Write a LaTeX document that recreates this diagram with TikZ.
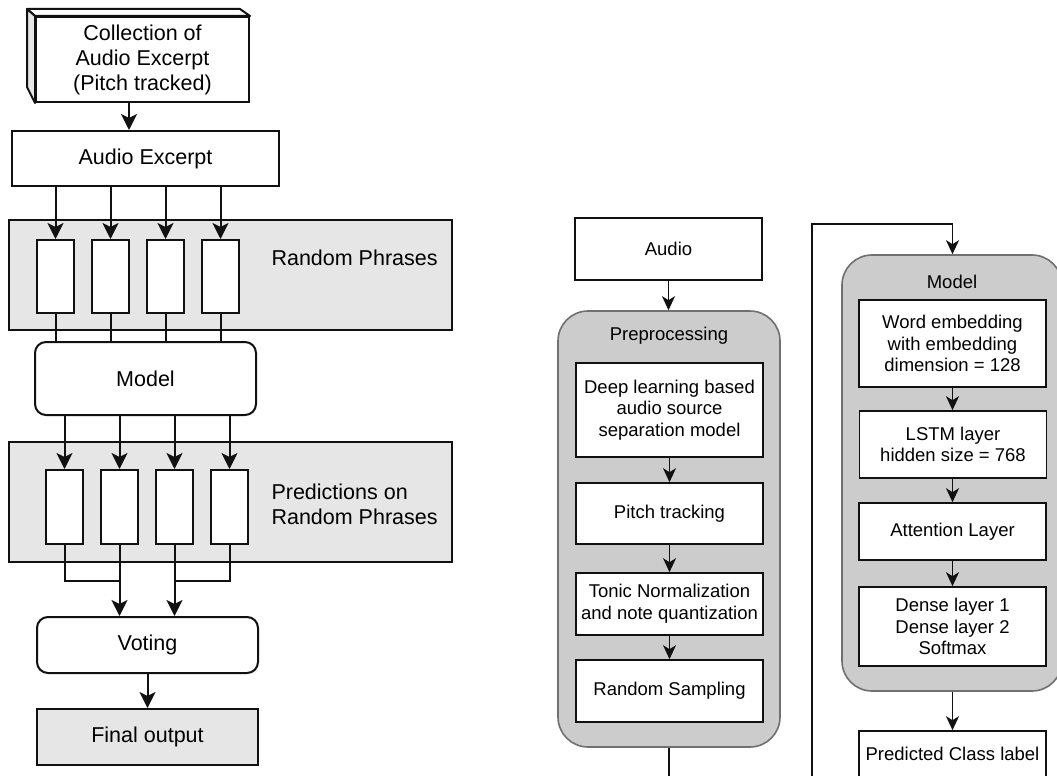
\documentclass[tikz,border=0pt]{standalone}
\usepackage{fontspec}
\setmainfont{Liberation Sans}
\usetikzlibrary{arrows.meta,calc}
\definecolor{panelgray}{HTML}{E6E6E6}
\definecolor{contgray}{HTML}{CCCCCC}
\definecolor{contline}{HTML}{707070}
\definecolor{ink}{HTML}{111111}
\begin{document}
\begin{tikzpicture}[x=1pt,y=-1pt,
  lfont/.style={font=\fontsize{21.5}{25}\selectfont},
  rfont/.style={font=\fontsize{18.5}{21.7}\selectfont},
  lbox/.style={draw=ink,line width=2pt,inner sep=0pt,align=center,lfont,fill=white},
  rbox/.style={draw=ink,line width=1.6pt,inner sep=0pt,align=center,rfont,fill=white},
  panel/.style={draw=ink,line width=2pt,fill=panelgray,inner sep=0pt},
  cont/.style={draw=contline,line width=1.6pt,fill=contgray,inner sep=0pt,rounded corners=30pt},
  larr/.style={draw=ink,line width=2pt,arrows={-Stealth[length=16pt,width=16pt,inset=4pt]}},
  lline/.style={draw=ink,line width=2pt},
  rarr/.style={draw=ink,line width=1.6pt,arrows={-Stealth[length=14pt,width=13pt,inset=4pt]}},
  rline/.style={draw=ink,line width=1.6pt}
]
\useasboundingbox (0,0) rectangle (1057,776);
\fill[white] (0,0) rectangle (1057,776);
\clip (0,0) rectangle (1057,776);

% ---------------- Left diagram ----------------
\node[lbox,minimum width=213pt,minimum height=85pt] (coll) at (142.5,59.5)
  {Collection of\\Audio Excerpt\\(Pitch tracked)};
\filldraw[draw=ink,line width=2pt,fill=white,line join=round]
  (coll.north west) -- ++(-8,-7) -- ++(213,0) -- (coll.north east) -- cycle;
\filldraw[draw=ink,line width=2pt,fill=panelgray,line join=round]
  (coll.north west) -- ++(-8,-7) -- ++(0,78) -- (coll.south west) -- cycle;

\node[lbox,minimum width=267pt,minimum height=55pt] (ae) at (145.5,158.5) {Audio Excerpt};
\coordinate (xc) at (129,0);
\draw[larr] (coll.south -| xc) -- (ae.north -| xc);

\node[panel,minimum width=443pt,minimum height=110pt] (rp) at (230.5,275) {};
\node[lfont,anchor=west] (rplab) at (268,258) {Random Phrases};
\foreach \i/\x in {1/55.5,2/110.5,3/165.5,4/220.5}{
  \node[lbox,minimum width=37pt,minimum height=73pt] (r\i) at (\x,276.5) {};
}
\node[lbox,rounded corners=11pt,minimum width=221pt,minimum height=73pt] (model) at (145.5,378.5) {Model};
\foreach \i in {1,...,4}{
  \draw[larr] (ae.south -| r\i) -- (r\i.north);
  \draw[lline] (r\i.south) -- (model.north -| r\i);
}

\node[panel,minimum width=443pt,minimum height=120pt] (pp) at (230.5,502) {};
\node[lfont,anchor=west,align=left] (pplab) at (268,504) {Predictions on\\Random Phrases};
\foreach \i/\x in {1/64.5,2/119.5,3/174.5,4/229.5}{
  \node[lbox,minimum width=37pt,minimum height=74pt] (p\i) at (\x,507) {};
  \draw[larr] (model.south -| p\i) -- (p\i.north);
}

\node[lbox,rounded corners=11pt,minimum width=221pt,minimum height=56pt] (vote) at (147.5,645) {Voting};
\node[lbox,fill=panelgray,minimum width=221pt,minimum height=56pt] (final) at (147.5,737) {Final output};

\coordinate (mj) at (0,581);
\draw[lline] (p1.south) -- (p1.south |- mj) -- (p2.south |- mj);
\draw[lline] (p4.south) -- (p4.south |- mj) -- (p3.south |- mj);
\draw[larr] (p2.south) -- (vote.north -| p2);
\draw[larr] (p3.south) -- (vote.north -| p3);
\draw[larr] (vote.south) -- (final.north);

% ---------------- Right diagram ----------------
\node[rbox,minimum width=187pt,minimum height=62pt] (audio) at (668.5,249) {Audio};
\node[cont,minimum width=222pt,minimum height=436pt] (prep) at (669,529) {};
\node[rfont] (preplab) at (669,336) {Preprocessing};
\node[rbox,minimum width=187pt,minimum height=94pt] (dl) at (669.5,410)
  {Deep learning based\\audio source\\separation model};
\node[rbox,minimum width=187pt,minimum height=61pt] (pt) at (669.5,513.5) {Pitch tracking};
\node[rbox,minimum width=187pt,minimum height=62pt] (tn) at (669.5,604)
  {Tonic Normalization\\and note quantization};
\node[rbox,minimum width=187pt,minimum height=62pt] (rs) at (669.5,691) {Random Sampling};

\draw[rarr] (audio.south) -- (prep.north -| audio);
\draw[rarr] (dl.south) -- (pt.north);
\draw[rarr] (pt.south) -- (tn.north);
\draw[rarr] (tn.south) -- (rs.north);

\node[cont,minimum width=220pt,minimum height=436pt] (mod) at (952,473) {};
\node[rfont] (modlab) at (952,282) {Model};
\node[rbox,minimum width=187pt,minimum height=87pt] (we) at (952.5,343.5)
  {Word embedding\\with embedding\\dimension = 128};
\node[rbox,minimum width=187pt,minimum height=67pt] (lstm) at (953,444.5)
  {LSTM layer\\hidden size = 768};
\node[rbox,minimum width=187pt,minimum height=57pt] (att) at (952.5,531.5) {Attention Layer};
\node[rbox,minimum width=187pt,minimum height=79pt] (dense) at (952.5,626.5)
  {Dense layer 1\\Dense layer 2\\Softmax};
\node[rbox,minimum width=187pt,minimum height=62pt] (pred) at (952.5,762)
  {\raisebox{17pt}{Predicted Class label}};

\draw[rarr] (we.south) -- (lstm.north -| we);
\draw[rarr] (lstm.south -| we) -- (att.north);
\draw[rarr] (att.south) -- (dense.north);
\draw[rarr] (mod.south -| pred) -- (pred.north);

\coordinate (bot) at (669,800);
\coordinate (loopx) at (812,224);
\draw[rline] (prep.south) -- (bot);
\draw[rarr] (loopx |- bot) -- (loopx) -- (loopx -| we) -- (mod.north -| we);
\end{tikzpicture}
\end{document}
